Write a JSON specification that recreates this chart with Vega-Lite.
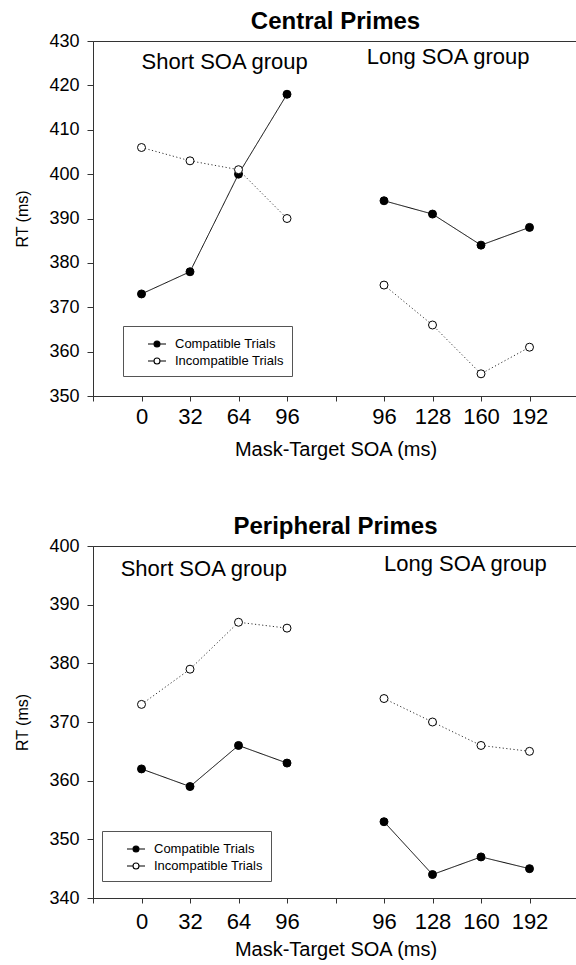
{
  "$schema": "https://vega.github.io/schema/vega-lite/v6.json",
  "background": "white",
  "padding": {"left": 14, "top": 9, "right": 0, "bottom": 0},
  "bounds": "flush",
  "spacing": 150,
  "config": {
    "font": "Liberation Sans",
    "view": {"stroke": "#333", "strokeWidth": 1},
    "axis": {"grid": false, "domainColor": "#333", "tickColor": "#333", "labelColor": "#000", "titleColor": "#000", "labelFont": "Liberation Sans", "titleFont": "Liberation Sans", "titleFontWeight": "normal"},
    "title": {"font": "Liberation Sans", "fontSize": 24, "fontWeight": "bold", "color": "#000", "offset": -2},
    "legend": {
      "orient": "none",
      "title": null,
      "strokeColor": "#555",
      "fillColor": "white",
      "padding": 8,
      "labelFont": "Liberation Sans",
      "labelFontSize": 13,
      "labelColor": "#000",
      "symbolType": "M-1,0L-0.33,0M1,0L0.33,0A0.33,0.33,0,1,1,-0.33,0A0.33,0.33,0,1,1,0.33,0Z",
      "symbolSize": 324,
      "symbolStrokeColor": "#000",
      "symbolStrokeWidth": 1.1,
      "symbolOffset": 16,
      "rowPadding": 0,
      "labelOffset": 8
    }
  },
  "resolve": {"scale": {"fill": "independent", "x": "independent", "y": "independent"}, "legend": {"fill": "independent"}},
  "datasets": {
    "central": [
      {"slot": "S0", "group": "short", "trial": "Compatible Trials", "rt": 373},
      {"slot": "S32", "group": "short", "trial": "Compatible Trials", "rt": 378},
      {"slot": "S64", "group": "short", "trial": "Compatible Trials", "rt": 400},
      {"slot": "S96", "group": "short", "trial": "Compatible Trials", "rt": 418},
      {"slot": "L96", "group": "long", "trial": "Compatible Trials", "rt": 394},
      {"slot": "L128", "group": "long", "trial": "Compatible Trials", "rt": 391},
      {"slot": "L160", "group": "long", "trial": "Compatible Trials", "rt": 384},
      {"slot": "L192", "group": "long", "trial": "Compatible Trials", "rt": 388},
      {"slot": "S0", "group": "short", "trial": "Incompatible Trials", "rt": 406},
      {"slot": "S32", "group": "short", "trial": "Incompatible Trials", "rt": 403},
      {"slot": "S64", "group": "short", "trial": "Incompatible Trials", "rt": 401},
      {"slot": "S96", "group": "short", "trial": "Incompatible Trials", "rt": 390},
      {"slot": "L96", "group": "long", "trial": "Incompatible Trials", "rt": 375},
      {"slot": "L128", "group": "long", "trial": "Incompatible Trials", "rt": 366},
      {"slot": "L160", "group": "long", "trial": "Incompatible Trials", "rt": 355},
      {"slot": "L192", "group": "long", "trial": "Incompatible Trials", "rt": 361}
    ],
    "peripheral": [
      {"slot": "S0", "group": "short", "trial": "Compatible Trials", "rt": 362},
      {"slot": "S32", "group": "short", "trial": "Compatible Trials", "rt": 359},
      {"slot": "S64", "group": "short", "trial": "Compatible Trials", "rt": 366},
      {"slot": "S96", "group": "short", "trial": "Compatible Trials", "rt": 363},
      {"slot": "L96", "group": "long", "trial": "Compatible Trials", "rt": 353},
      {"slot": "L128", "group": "long", "trial": "Compatible Trials", "rt": 344},
      {"slot": "L160", "group": "long", "trial": "Compatible Trials", "rt": 347},
      {"slot": "L192", "group": "long", "trial": "Compatible Trials", "rt": 345},
      {"slot": "S0", "group": "short", "trial": "Incompatible Trials", "rt": 373},
      {"slot": "S32", "group": "short", "trial": "Incompatible Trials", "rt": 379},
      {"slot": "S64", "group": "short", "trial": "Incompatible Trials", "rt": 387},
      {"slot": "S96", "group": "short", "trial": "Incompatible Trials", "rt": 386},
      {"slot": "L96", "group": "long", "trial": "Incompatible Trials", "rt": 374},
      {"slot": "L128", "group": "long", "trial": "Incompatible Trials", "rt": 370},
      {"slot": "L160", "group": "long", "trial": "Incompatible Trials", "rt": 366},
      {"slot": "L192", "group": "long", "trial": "Incompatible Trials", "rt": 365}
    ]
  },
  "vconcat": [
    {
      "title": {"text": "Central Primes"},
      "width": 485,
      "height": 355,
      "layer": [
        {
          "data": {"name": "central"},
          "mark": {"type": "line", "strokeWidth": 1},
          "encoding": {
            "x": {"field": "slot", "type": "ordinal", "scale": {"type": "point", "domain": ["_a", "S0", "S32", "S64", "S96", "_gap", "L96", "L128", "L160", "L192"], "paddingOuter": 0.429, "align": 0},
              "axis": {"title": "Mask-Target SOA (ms)", "labelExpr": "indexof(datum.value, '_') === 0 ? '' : substring(datum.value, 1)", "labelAngle": 0, "labelFontSize": 22, "titleFontSize": 20, "tickSize": 5, "labelPadding": 5, "titlePadding": 12, "labelBaseline": "top"}},
            "y": {"field": "rt", "type": "quantitative", "scale": {"domain": [350, 430], "nice": false, "zero": false},
              "axis": {"title": "RT (ms)", "values": [350, 360, 370, 380, 390, 400, 410, 420, 430], "labelFontSize": 18, "titleFontSize": 16, "tickSize": 6, "labelPadding": 8, "titlePadding": 18}},
            "detail": [{"field": "group"}, {"field": "trial"}],
            "stroke": {"field": "trial", "type": "nominal", "scale": {"domain": ["Compatible Trials", "Incompatible Trials"], "range": ["#000", "#333"]}, "legend": null},
            "strokeDash": {"field": "trial", "type": "nominal", "scale": {"domain": ["Compatible Trials", "Incompatible Trials"], "range": [[1, 0], [1.2, 2.4]]}, "legend": null}
          }
        },
        {
          "data": {"name": "central"},
          "mark": {"type": "point", "filled": false, "shape": "circle", "size": 64, "stroke": "#000", "strokeWidth": 1, "opacity": 1},
          "encoding": {
            "x": {"field": "slot", "type": "ordinal"},
            "y": {"field": "rt", "type": "quantitative"},
            "fill": {"field": "trial", "type": "nominal", "scale": {"domain": ["Compatible Trials", "Incompatible Trials"], "range": ["#000", "#fff"]},
              "legend": {"legendX": 30, "legendY": 285,
                "encode": {"symbols": {"update": {"strokeWidth": {"value": 1.1}, "strokeDash": {"signal": "datum.value === 'Incompatible Trials' ? [1.2, 2.4] : [1, 0]"}}}}}}
          }
        },
        {
          "data": {"values": [{"label": "Short SOA group"}]},
          "mark": {"type": "text", "align": "left", "baseline": "middle", "fontSize": 22, "font": "Liberation Sans", "fill": "#000"},
          "encoding": {"x": {"datum": "S0", "type": "ordinal"}, "y": {"datum": 425.2, "type": "quantitative"}, "text": {"field": "label", "type": "nominal"}}
        },
        {
          "data": {"values": [{"label": "Long SOA group"}]},
          "mark": {"type": "text", "align": "right", "baseline": "middle", "fontSize": 22, "font": "Liberation Sans", "fill": "#000"},
          "encoding": {"x": {"datum": "L192", "type": "ordinal"}, "y": {"datum": 426.3, "type": "quantitative"}, "text": {"field": "label", "type": "nominal"}}
        }
      ]
    },
    {
      "title": {"text": "Peripheral Primes"},
      "width": 485,
      "height": 352,
      "layer": [
        {
          "data": {"name": "peripheral"},
          "mark": {"type": "line", "strokeWidth": 1},
          "encoding": {
            "x": {"field": "slot", "type": "ordinal", "scale": {"type": "point", "domain": ["_a", "S0", "S32", "S64", "S96", "_gap", "L96", "L128", "L160", "L192"], "paddingOuter": 0.429, "align": 0},
              "axis": {"title": "Mask-Target SOA (ms)", "labelExpr": "indexof(datum.value, '_') === 0 ? '' : substring(datum.value, 1)", "labelAngle": 0, "labelFontSize": 22, "titleFontSize": 20, "tickSize": 5, "labelPadding": 8, "titlePadding": 7, "labelBaseline": "top"}},
            "y": {"field": "rt", "type": "quantitative", "scale": {"domain": [340, 400], "nice": false, "zero": false},
              "axis": {"title": "RT (ms)", "values": [340, 350, 360, 370, 380, 390, 400], "labelFontSize": 18, "titleFontSize": 16, "tickSize": 6, "labelPadding": 8, "titlePadding": 18}},
            "detail": [{"field": "group"}, {"field": "trial"}],
            "stroke": {"field": "trial", "type": "nominal", "scale": {"domain": ["Compatible Trials", "Incompatible Trials"], "range": ["#000", "#333"]}, "legend": null},
            "strokeDash": {"field": "trial", "type": "nominal", "scale": {"domain": ["Compatible Trials", "Incompatible Trials"], "range": [[1, 0], [1.2, 2.4]]}, "legend": null}
          }
        },
        {
          "data": {"name": "peripheral"},
          "mark": {"type": "point", "filled": false, "shape": "circle", "size": 64, "stroke": "#000", "strokeWidth": 1, "opacity": 1},
          "encoding": {
            "x": {"field": "slot", "type": "ordinal"},
            "y": {"field": "rt", "type": "quantitative"},
            "fill": {"field": "trial", "type": "nominal", "scale": {"domain": ["Compatible Trials", "Incompatible Trials"], "range": ["#000", "#fff"]},
              "legend": {"legendX": 9, "legendY": 285,
                "encode": {"symbols": {"update": {"strokeWidth": {"value": 1.1}, "strokeDash": {"signal": "datum.value === 'Incompatible Trials' ? [1.2, 2.4] : [1, 0]"}}}}}}
          }
        },
        {
          "data": {"values": [{"label": "Short SOA group"}]},
          "mark": {"type": "text", "align": "right", "baseline": "middle", "fontSize": 22, "font": "Liberation Sans", "fill": "#000"},
          "encoding": {"x": {"datum": "S96", "type": "ordinal"}, "y": {"datum": 396.0, "type": "quantitative"}, "text": {"field": "label", "type": "nominal"}}
        },
        {
          "data": {"values": [{"label": "Long SOA group"}]},
          "mark": {"type": "text", "align": "left", "baseline": "middle", "fontSize": 22, "font": "Liberation Sans", "fill": "#000"},
          "encoding": {"x": {"datum": "L96", "type": "ordinal"}, "y": {"datum": 396.9, "type": "quantitative"}, "text": {"field": "label", "type": "nominal"}}
        }
      ]
    }
  ]
}
